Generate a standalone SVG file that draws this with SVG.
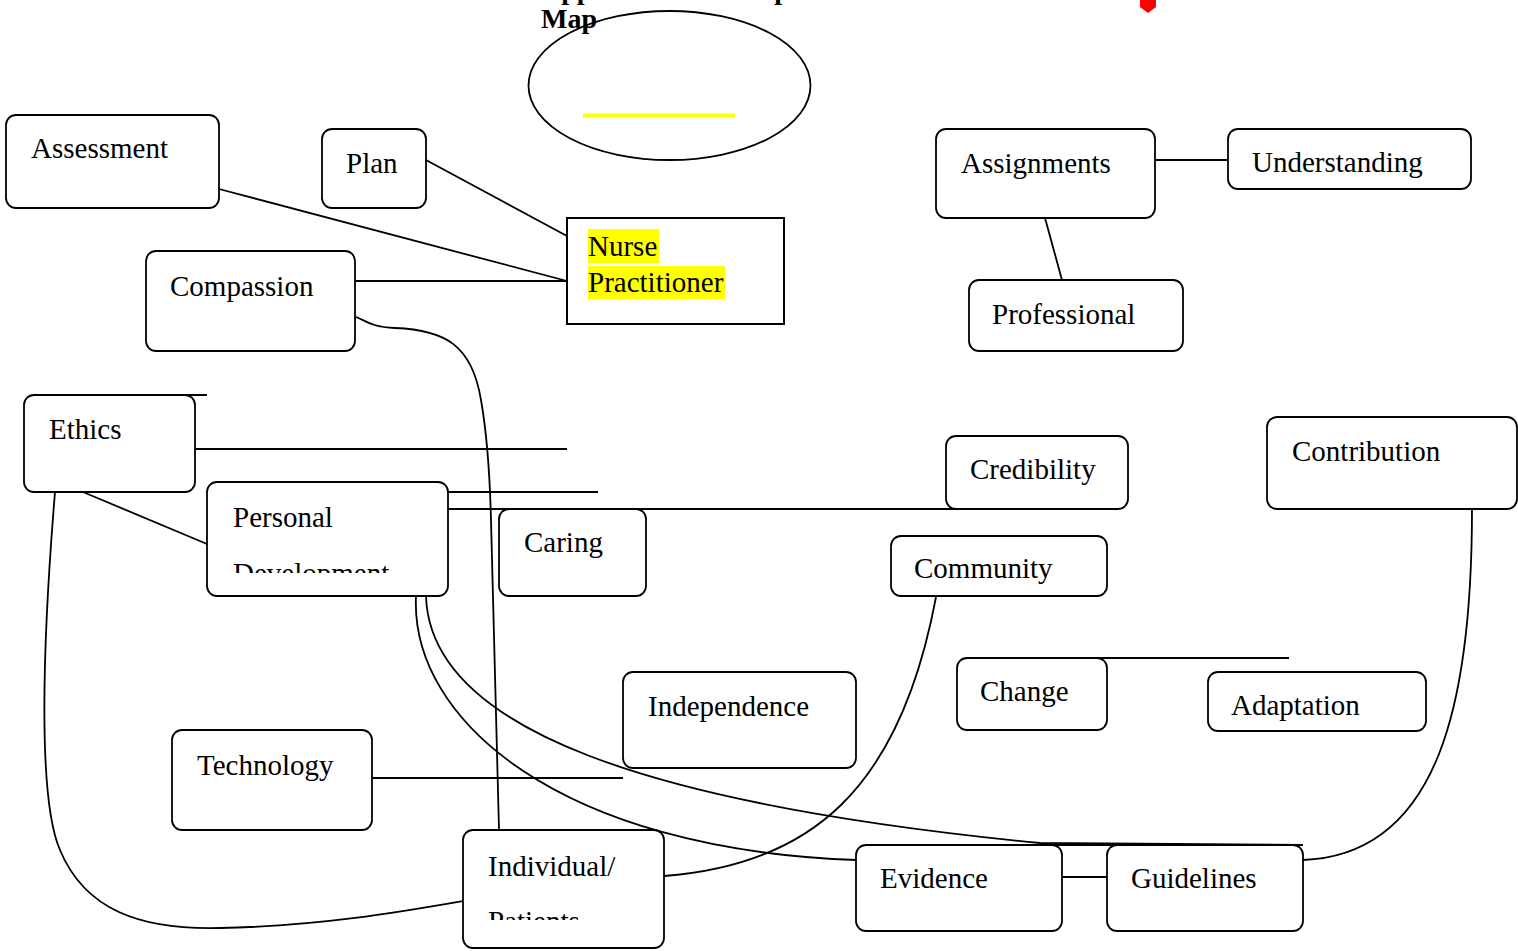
<svg xmlns="http://www.w3.org/2000/svg" width="1518" height="951" viewBox="0 0 1518 951">
<style>
.node{fill:#fff;stroke:#000;stroke-width:1.8}
.lbl{font-family:"Liberation Serif","Times New Roman",serif;font-size:29px;fill:#000}
.c{fill:none;stroke:#000;stroke-width:1.8}
.title{font-family:"Liberation Serif","Times New Roman",serif;font-size:28px;font-weight:bold;fill:#000}
</style>
<defs>
<clipPath id="clipPD"><rect x="207" y="482" width="241" height="91"/></clipPath>
<clipPath id="clipIP"><rect x="463" y="830" width="201" height="90"/></clipPath>
</defs>
<rect width="1518" height="951" fill="#fff"/>
<g id="title">
<text class="title" x="541" y="-1">Appendix A: Concept</text>
<text class="title" x="541" y="28">Map</text>
</g>
<g id="marker"><path d="M1140,0 L1156,0 L1156,7 L1148,13 L1140,7 Z" fill="#ff0000"/></g>
<g id="connectors">
<line class="c" x1="426" y1="160" x2="567" y2="236"/>
<line class="c" x1="219" y1="189" x2="567" y2="281"/>
<line class="c" x1="355" y1="281" x2="567" y2="281"/>
<path class="c" d="M356,317 C365,320 370,327 395,328 C445,330 472,345 481,400 C488,440 490,480 491,520 L499,830"/>
<line class="c" x1="195" y1="449" x2="567" y2="449"/>
<line class="c" x1="38" y1="395" x2="207" y2="395"/>
<line class="c" x1="83" y1="492" x2="207" y2="544"/>
<path class="c" d="M55,492 C42,650 38,800 60,850 C85,910 140,930 220,928 C320,926 400,912 463,901"/>
<line class="c" x1="448" y1="492" x2="598" y2="492"/>
<line class="c" x1="448" y1="509" x2="970" y2="509"/>
<path class="c" d="M416,596 C410,720 560,850 857,860"/>
<path class="c" d="M426,596 C430,730 650,805 1040,843 L1303,845"/>
<line class="c" x1="372" y1="778" x2="623" y2="778"/>
<path class="c" d="M664,876 C810,865 900,790 936,597"/>
<line class="c" x1="1062" y1="877" x2="1107" y2="877"/>
<path class="c" d="M1472,509 C1472,700 1440,855 1303,860"/>
<line class="c" x1="968" y1="658" x2="1289" y2="658"/>
<line class="c" x1="1155" y1="160" x2="1228" y2="160"/>
<line class="c" x1="1045" y1="218" x2="1062" y2="280"/>
</g>
<g id="goal">
<ellipse cx="669.5" cy="85.5" rx="141" ry="74.5" fill="none" stroke="#000" stroke-width="1.8"/>
<rect x="583" y="113.5" width="152" height="4" fill="#ffff00"/>
</g>
<g id="n-assessment"><rect class="node" x="6" y="115" width="213" height="93" rx="10"/><text class="lbl" x="31" y="158">Assessment</text></g>
<g id="n-plan"><rect class="node" x="322" y="129" width="104" height="79" rx="10"/><text class="lbl" x="346" y="173">Plan</text></g>
<g id="n-np">
<rect x="567" y="218" width="217" height="106" fill="#fff" stroke="#000" stroke-width="2"/>
<rect x="588" y="229" width="71" height="34" fill="#ffff00"/>
<rect x="588" y="266" width="137" height="33" fill="#ffff00"/>
<text class="lbl" x="588" y="256">Nurse</text>
<text class="lbl" x="588" y="292">Practitioner</text>
</g>
<g id="n-compassion"><rect class="node" x="146" y="251" width="209" height="100" rx="10"/><text class="lbl" x="170" y="296">Compassion</text></g>
<g id="n-ethics"><rect class="node" x="24" y="395" width="171" height="97" rx="10"/><text class="lbl" x="49" y="439">Ethics</text></g>
<g id="n-personal"><rect class="node" x="207" y="482" width="241" height="114" rx="10"/><g clip-path="url(#clipPD)"><text class="lbl" x="233" y="527">Personal</text><text class="lbl" x="233" y="583">Development</text></g></g>
<g id="n-caring"><rect class="node" x="499" y="509" width="147" height="87" rx="10"/><text class="lbl" x="524" y="552">Caring</text></g>
<g id="n-technology"><rect class="node" x="172" y="730" width="200" height="100" rx="10"/><text class="lbl" x="197" y="775">Technology</text></g>
<g id="n-individual"><rect class="node" x="463" y="830" width="201" height="118" rx="10"/><g clip-path="url(#clipIP)"><text class="lbl" x="488" y="876">Individual/</text><text class="lbl" x="488" y="931">Patients</text></g></g>
<g id="n-credibility"><rect class="node" x="946" y="436" width="182" height="73" rx="10"/><text class="lbl" x="970" y="479">Credibility</text></g>
<g id="n-contribution"><rect class="node" x="1267" y="417" width="250" height="92" rx="10"/><text class="lbl" x="1292" y="461">Contribution</text></g>
<g id="n-community"><rect class="node" x="891" y="536" width="216" height="60" rx="10"/><text class="lbl" x="914" y="578">Community</text></g>
<g id="n-independence"><rect class="node" x="623" y="672" width="233" height="96" rx="10"/><text class="lbl" x="648" y="716">Independence</text></g>
<g id="n-change"><rect class="node" x="957" y="658" width="150" height="72" rx="10"/><text class="lbl" x="980" y="701">Change</text></g>
<g id="n-adaptation"><rect class="node" x="1208" y="672" width="218" height="59" rx="10"/><text class="lbl" x="1231" y="715">Adaptation</text></g>
<g id="n-evidence"><rect class="node" x="856" y="845" width="206" height="86" rx="10"/><text class="lbl" x="880" y="888">Evidence</text></g>
<g id="n-guidelines"><rect class="node" x="1107" y="845" width="196" height="86" rx="10"/><text class="lbl" x="1131" y="888">Guidelines</text></g>
<g id="n-assignments"><rect class="node" x="936" y="129" width="219" height="89" rx="10"/><text class="lbl" x="961" y="173">Assignments</text></g>
<g id="n-understanding"><rect class="node" x="1228" y="129" width="243" height="60" rx="10"/><text class="lbl" x="1252" y="172">Understanding</text></g>
<g id="n-professional"><rect class="node" x="969" y="280" width="214" height="71" rx="10"/><text class="lbl" x="992" y="324">Professional</text></g>
<g id="overlays">
<line class="c" x1="38" y1="395" x2="207" y2="395"/>
<line class="c" x1="448" y1="509" x2="970" y2="509"/>
<line class="c" x1="968" y1="658" x2="1289" y2="658"/>
<line class="c" x1="1040" y1="845" x2="1303" y2="845"/>
</g>
</svg>
